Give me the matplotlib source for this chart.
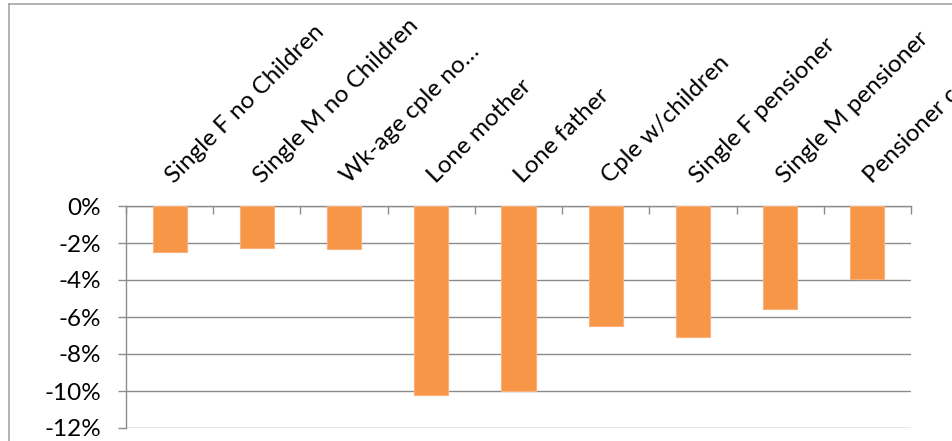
import matplotlib
matplotlib.use("Agg")
import matplotlib.pyplot as plt
from matplotlib.lines import Line2D
import numpy as np

categories = ["Single F no Children", "Single M no Children", "Wk-age cple no\u2026",
              "Lone mother", "Lone father", "Cple w/children",
              "Single F pensioner", "Single M pensioner", "Pensioner couple"]
values = [-2.5, -2.25, -2.35, -10.2, -10.0, -6.5, -7.1, -5.55, -3.95]
yticks = [0, -2, -4, -6, -8, -10, -12]
ytick_labels = ["0%", "-2%", "-4%", "-6%", "-8%", "-10%", "-12%"]

plt.rcParams['font.family'] = ['Lato', 'DejaVu Sans']

W, H = 952, 441
fig = plt.figure(figsize=(W / 100, H / 100), dpi=100)
ax = fig.add_axes([126 / W, (H - 428) / H, (911 - 126) / W, (428 - 206) / H])

grid_c = '#8C8C8C'
x = np.arange(len(categories))
ax.bar(x, values, width=0.39, color='#F79646', edgecolor='#F9B07A', linewidth=0.8, zorder=3)

ax.set_xlim(-0.5, len(categories) - 0.5)
ax.set_ylim(-12, 0)
ax.set_yticks(yticks)
ax.set_yticklabels(ytick_labels, fontsize=17.5, color='#000000')
ax.yaxis.grid(True, color=grid_c, linewidth=1.0, zorder=0)
ax.tick_params(axis='y', length=6, width=1, color=grid_c, pad=12)

ax.xaxis.tick_top()
ax.set_xticks(np.arange(len(categories) + 1) - 0.5)
ax.set_xticklabels([])
ax.tick_params(axis='x', which='major', length=6, width=1, color=grid_c, direction='in')

# category labels, rotated 45 degrees above the category axis
for xi, cat in zip(x, categories):
    ax.annotate(cat, xy=(xi, 1.0), xycoords=('data', 'axes fraction'),
                xytext=(3.5, 15.5), textcoords='offset points',
                rotation=45, rotation_mode='anchor', ha='left', va='baseline',
                fontsize=17.5, color='#000000', annotation_clip=False)

for s in ['right', 'bottom']:
    ax.spines[s].set_visible(False)
ax.spines['left'].set_color(grid_c)
ax.spines['top'].set_color(grid_c)
ax.spines['left'].set_linewidth(1)
ax.spines['top'].set_linewidth(1)

# outer chart border (partially visible)
border_c = '#A6A6A6'
fig.add_artist(Line2D([8.5 / W, 8.5 / W], [0, 1 - 3.5 / H], transform=fig.transFigure, color=border_c, lw=1.2))
fig.add_artist(Line2D([8.5 / W, 1], [1 - 3.5 / H, 1 - 3.5 / H], transform=fig.transFigure, color=border_c, lw=1.2))

fig.savefig("out.png", dpi=100)
